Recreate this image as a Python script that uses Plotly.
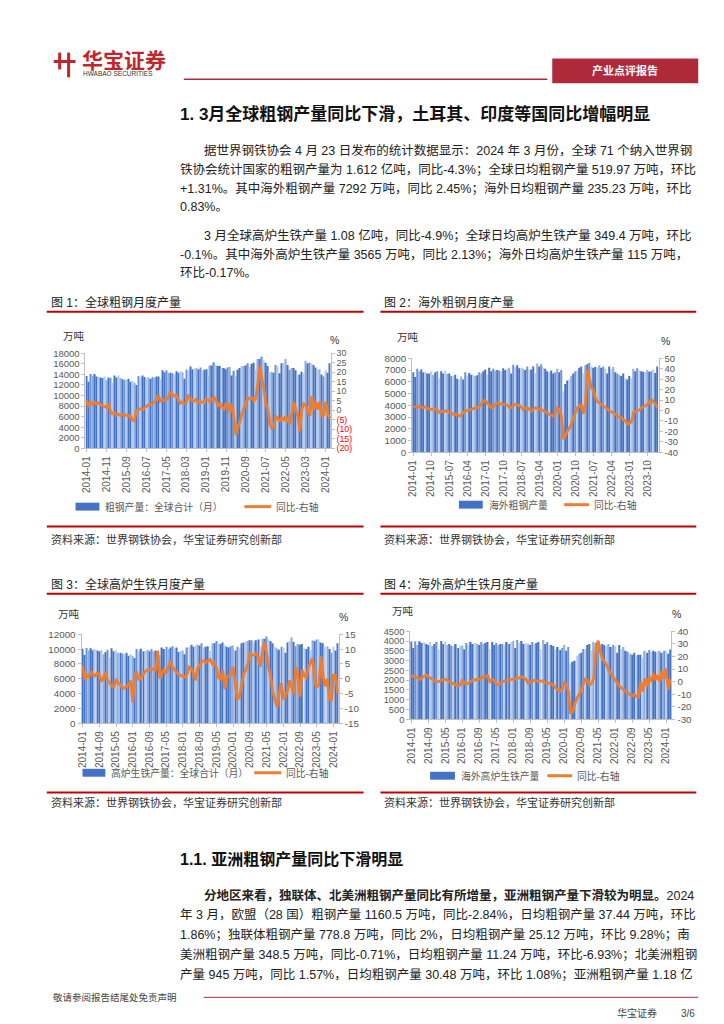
import plotly.graph_objects as go

W, H = 724, 1024
def X(px): return px / W
def Y(py): return 1 - py / H

months = [f"{y}-{m:02d}" for y in range(2014, 2025) for m in range(1, 13)][:123]

# ---------------- data (万吨 / %) ----------------
steel_global = [
    13700, 12600, 14100, 13800, 14100, 13600, 13500, 13400, 13300, 13600, 12900, 13400,
    13300, 12400, 13800, 13400, 13800, 13300, 13100, 13000, 13000, 13200, 12600, 12800,
    12400, 12000, 13700, 13400, 13800, 13500, 13300, 13400, 13200, 13500, 13300, 13600,
    13600, 13100, 14800, 14400, 14800, 14300, 14300, 14200, 14000, 14600, 14300, 14600,
    14400, 13200, 14900, 14800, 15500, 15000, 15100, 15200, 15000, 15300, 14800, 14900,
    15000, 13800, 15700, 15700, 16300, 15800, 15600, 15600, 15200, 15200, 15000, 15300,
    15400, 13800, 14700, 13700, 14900, 15200, 15600, 15600, 15700, 16100, 15400, 16000,
    16200, 15000, 16900, 16900, 17400, 16700, 16200, 15600, 14400, 14500, 14300, 15800,
    15500, 14200, 16100, 16200, 16900, 15800, 14900, 15200, 15200, 14800, 14000, 14000,
    14500, 14200, 16600, 16100, 16200, 16000, 15800, 15300, 15000, 15000, 14000, 13600,
    14800, 14300, 16120]
steel_global_yoy = [
    5.5, 1.8, 4.5, 3.0, 4.2, 3.5, 4.0, 2.8, 2.5, 2.0, 1.5, 3.8,
    -0.5, -1.8, -1.2, -2.5, -2.0, -2.8, -2.2, -2.6, -2.5, -3.0, -2.8, -5.2,
    -5.5, -0.2, 0.5, 0.8, 0.5, 1.2, 2.2, 2.8, 3.0, 3.5, 4.2, 5.5,
    8.0, 4.8, 5.5, 5.2, 5.5, 6.5, 9.8, 8.5, 7.5, 8.0, 5.5, 3.8,
    4.5, 3.6, 4.0, 7.5, 6.5, 5.0, 4.8, 5.8, 4.0, 3.8, 4.5, 4.0,
    6.0, 5.5, 4.5, 6.0, 6.8, 5.0, 2.0, 3.5, 1.5, 0.5, 3.5, 3.0,
    -1.0, 3.5, -5.0, -13.0, -8.5, -6.0, -1.5, 1.0, 3.0, 6.5, 6.0, 6.6,
    5.0, 6.5, 15.0, 23.5, 16.5, 11.5, 3.0, 0.5, -7.5, -9.5, -8.5, -3.0,
    -4.5, -5.5, -4.0, -5.0, -3.0, -5.8, -6.5, -2.0, 4.5, 0.0, -3.5, -11.0,
    0.5, 3.5, 2.5, -0.5, -3.0, 7.5, 0.0, 4.5, 0.5, 4.5, -3.0, -2.5,
    4.5, -1.5, -4.3]

steel_overseas = [
    6800, 6400, 7100, 6900, 7050, 6800, 6850, 6700, 6700, 6900, 6600, 6800,
    6900, 6300, 6900, 6700, 6950, 6650, 6700, 6500, 6450, 6600, 6250, 6200,
    6450, 6200, 6800, 6550, 6750, 6600, 6600, 6500, 6550, 6800, 6700, 6900,
    7050, 6600, 7200, 6900, 7100, 6950, 7000, 6950, 6900, 7150, 7000, 7100,
    7200, 6700, 7450, 7250, 7400, 7150, 7200, 7100, 7000, 7300, 7050, 7050,
    7300, 6750, 7550, 7300, 7500, 7200, 7100, 6900, 6800, 6950, 6700, 6800,
    7100, 6800, 7000, 5200, 5800, 6100, 6200, 6500, 6700, 6900, 6950, 7200,
    7300, 6700, 7400, 7500, 7600, 7300, 7200, 7250, 7150, 7400, 7200, 7300,
    7100, 6700, 7300, 7050, 7250, 6800, 6700, 6600, 6500, 6700, 6300, 6200,
    6500, 6300, 7100, 6900, 7150, 6950, 6900, 6850, 6800, 7000, 6850, 6900,
    7050, 6750, 7292]
steel_overseas_yoy = [
    4.0, 3.0, 2.6, 4.2, 3.5, 2.6, 3.5, 2.0, 1.0, 1.0, 1.0, 1.5,
    0.5, -2.0, -1.0, -0.5, -0.5, -0.5, -1.5, -2.5, -3.6, -3.6, -4.0, -5.3,
    -4.7, -2.0, -0.5, 0.0, 0.5, 1.0, 1.5, 2.6, 3.0, 4.0, 6.0, 9.0,
    9.5, 7.5, 5.0, 2.5, 3.5, 5.5, 7.5, 6.5, 6.0, 5.8, 5.8, 5.0,
    3.0, 2.6, 4.5, 5.8, 5.0, 4.8, 3.0, 1.0, 2.0, 2.6, 1.0, -0.5,
    1.0, 2.6, 2.0, 1.6, 0.5, 0.0, -1.5, -2.5, -3.6, -4.5, -5.3, -3.0,
    2.6, 1.0, -5.0, -27.5, -24.0, -21.0, -16.0, -13.0, -7.0, -2.0, 2.6, 4.0,
    5.8, -3.0, 6.0, 39.0, 31.0, 22.0, 19.0, 12.0, 8.5, 7.0, 5.8, 4.0,
    2.6, 1.0, -0.5, -1.5, -2.0, -4.0, -5.3, -6.5, -7.0, -9.0, -10.0, -13.2,
    -12.0, -11.0, -2.0, -1.0, -0.5, 0.5, 2.6, 3.5, 4.2, 5.5, 8.5, 10.5,
    8.0, 6.5, 2.45]

iron_global = [
    10050, 9200, 10150, 9800, 10100, 9850, 10000, 9800, 9700, 9900, 9300, 9600,
    9900, 8900, 10100, 9700, 9850, 9500, 9500, 9400, 9300, 9500, 9100, 9300,
    9100, 8800, 10000, 9700, 10050, 9700, 9750, 9900, 9700, 10000, 9700, 9800,
    9700, 9200, 10200, 10000, 10300, 10000, 10200, 10400, 10100, 10200, 9600, 9700,
    9800, 9300, 10200, 10300, 10600, 10300, 10500, 10600, 10500, 10800, 10200, 10300,
    10400, 9800, 10800, 10800, 11100, 10800, 10700, 10900, 10600, 10300, 10200, 10400,
    10500, 9800, 10300, 10100, 10800, 10900, 11000, 11100, 11200, 11200, 10900, 11200,
    11300, 10400, 11400, 11400, 11700, 11300, 11100, 10800, 10300, 10100, 9900, 10300,
    10200, 9500, 10900, 11100, 11600, 11000, 10400, 10700, 10600, 10700, 10100, 10000,
    10300, 9800, 11200, 11100, 11300, 11300, 10900, 10800, 10300, 10400, 10000, 9500,
    10300, 9800, 10800]
iron_global_yoy = [
    4.5, -0.5, 1.5, 0.5, 2.5, 1.5, 1.0, 2.0, 1.5, -1.0, 0.5, 2.0,
    -0.5, -1.5, -2.5, -2.8, 0.0, -1.5, -2.0, -3.0, -3.2, -2.5, -2.0, -0.5,
    -8.0, 1.5, 2.0, -0.5, 0.5, 1.5, 2.5, 3.0, 3.0, 3.5, 3.0, 3.0,
    9.5, 0.0, 2.0, 3.0, 2.0, 3.5, 6.0, 4.0, 3.0, 2.0, 1.5, 1.0,
    1.0, 0.5, 1.5, 4.0, 3.5, 2.0, -0.5, 3.5, 4.0, 6.0, 6.0, 5.5,
    6.0, 6.5, 5.0, 5.5, 4.0, 0.5, -0.5, 3.0, -3.5, 0.5, 1.0, 1.5,
    4.0, -1.5, -7.0, -6.0, -1.5, 1.5, 3.0, 5.0, 8.5, 8.0, 8.0, 8.5,
    7.5, 4.0, 9.0, 12.5, 8.5, 3.5, 0.5, -4.5, -7.0, -9.5, -5.0, -1.5,
    -6.5, -6.0, -4.0, -0.5, -3.0, -5.0, 4.0, 0.5, -6.0, 3.0, 1.0, 0.5,
    4.0, 5.5, 7.0, -1.0, -3.0, -2.0, 7.5, 1.0, -2.5, 0.0, -6.5, -7.5,
    1.5, 1.0, -4.9]

iron_overseas = [
    3980, 3650, 3990, 3800, 3990, 3900, 3950, 3850, 3800, 3950, 3750, 3850,
    3950, 3580, 4000, 3850, 3980, 3800, 3850, 3780, 3750, 3850, 3650, 3750,
    3780, 3580, 3900, 3800, 3950, 3850, 3900, 3850, 3800, 3950, 3850, 3900,
    3950, 3600, 3950, 3800, 3900, 3800, 3850, 3850, 3800, 3950, 3850, 3950,
    4000, 3650, 4050, 3900, 4000, 3850, 3900, 3850, 3800, 3950, 3850, 3900,
    3950, 3600, 4050, 3850, 3950, 3800, 3800, 3750, 3600, 3700, 3550, 3650,
    3800, 3500, 3700, 2850, 2950, 3000, 3250, 3350, 3400, 3600, 3600, 3800,
    3850, 3500, 3950, 3900, 3950, 3850, 3850, 3800, 3750, 3850, 3700, 3800,
    3750, 3400, 3800, 3600, 3700, 3500, 3450, 3350, 3300, 3400, 3250, 3300,
    3300, 3150, 3500, 3400, 3550, 3450, 3500, 3450, 3450, 3500, 3400, 3500,
    3500, 3350, 3565]
iron_overseas_yoy = [
    4.5, 4.0, 4.0, 3.0, 1.8, 3.0, 4.0, 5.2, 4.0, 2.6, 1.5, 0.5,
    0.0, 0.0, 1.0, 1.3, 1.8, 1.0, 0.0, -1.3, -1.5, -2.6, -3.4, -3.0,
    1.8, -1.3, -1.5, -1.3, 0.0, 1.3, 1.3, 1.5, 1.8, 2.5, 3.9, 4.4,
    4.8, 0.0, 1.8, 1.0, -1.8, -2.6, -1.0, 0.0, 0.5, 0.8, 1.3, 1.8,
    1.5, 1.8, 2.6, 3.0, 3.9, 3.0, 1.8, -1.3, -0.5, 0.0, 1.3, 0.5,
    0.0, 0.5, 0.5, -0.8, -0.8, -1.3, -2.0, -2.6, -5.2, -6.5, -7.8, -6.0,
    0.0, -3.0, -8.0, -25.5, -24.0, -18.0, -13.0, -10.5, -7.0, -2.0, 2.0, 1.0,
    -2.6, -1.3, 3.0, 27.5, 32.5, 24.0, 18.0, 15.7, 13.0, 9.0, 6.0, 3.9,
    1.0, -1.0, -3.9, -5.0, -6.5, -7.8, -9.0, -10.5, -11.2, -10.4, -11.7, -13.0,
    0.0, -7.8, 2.6, -3.9, 3.9, 0.0, 6.5, 1.3, 5.2, 0.0, 8.5, 2.6,
    10.4, -6.5, 2.13]

ticks_c1 = ["2014-01", "2014-11", "2015-09", "2016-07", "2017-05", "2018-03", "2019-01",
            "2019-11", "2020-09", "2021-07", "2022-05", "2023-03", "2024-01"]
ticks_c2 = ["2014-01", "2014-10", "2015-07", "2016-04", "2017-01", "2017-10", "2018-07",
            "2019-04", "2020-01", "2020-10", "2021-07", "2022-04", "2023-01", "2023-10"]
ticks_c34 = ["2014-01", "2014-09", "2015-05", "2016-01", "2016-09", "2017-05", "2018-01", "2018-09",
             "2019-05", "2020-01", "2020-09", "2021-05", "2022-01", "2022-09", "2023-05", "2024-01"]

for arr in (steel_global, steel_global_yoy, steel_overseas, steel_overseas_yoy,
            iron_global, iron_global_yoy, iron_overseas, iron_overseas_yoy):
    assert len(arr) == 123, len(arr)

# ---------------- styles ----------------
GRAY = '#595959'
AXC = '#BFBFBF'
ORANGE = '#ED7D31'
BLUE = '#4472C4'
RED = '#C00000'
HDR = '#AE2A3B'
LAT = 'Liberation Sans, Arial, Noto Sans CJK SC, sans-serif'
CJK = 'Liberation Sans, Noto Sans CJK SC, sans-serif'

def tickfont(size):
    return dict(family=LAT, size=size, color=GRAY)

def shade(i):
    t = (i * 0.29) % 1.0
    if t < 0.45:
        return '#4472C4'
    if t < 0.6:
        return '#6F93D3'
    if t < 0.85:
        return '#B7CCEC'
    return '#8FAEDF'

bar_colors = [shade(i) for i in range(123)]

def neg_red(v):
    if v < 0:
        return f'<span style="color:#FF0000">({-v})</span>'
    return str(v)

charts = [
    dict(bars=steel_global, yoy=steel_global_yoy, ticks=ticks_c1,
         box=(73, 320, 343, 439), lrange=[0, 18000], ldtick=2000, lfs=9.5, rfs=8.8,
         rvals=list(range(-20, 31, 5)), rtext=[neg_red(v) for v in range(-20, 31, 5)], rrange=[-20, 30]),
    dict(bars=steel_overseas, yoy=steel_overseas_yoy, ticks=ticks_c2,
         box=(402, 650, 348, 443), lrange=[0, 8000], ldtick=1000, lfs=9.8, rfs=9.5,
         rvals=list(range(-40, 51, 10)), rtext=[str(v) for v in range(-40, 51, 10)], rrange=[-40, 50]),
    dict(bars=iron_global, yoy=iron_global_yoy, ticks=ticks_c34,
         box=(69, 328, 627, 717), lrange=[0, 12000], ldtick=2000, lfs=9.8, rfs=9.8,
         rvals=list(range(-15, 16, 5)), rtext=[str(v) for v in range(-15, 16, 5)], rrange=[-15, 15]),
    dict(bars=iron_overseas, yoy=iron_overseas_yoy, ticks=ticks_c34,
         box=(400, 663, 624, 713), lrange=[0, 4500], ldtick=500, lfs=9.3, rfs=9.8,
         rvals=list(range(-30, 41, 10)), rtext=[str(v) for v in range(-30, 41, 10)], rrange=[-30, 40]),
]

fig = go.Figure()
layout = dict(width=W, height=H, margin=dict(l=0, r=0, t=0, b=0),
              paper_bgcolor='white', plot_bgcolor='rgba(0,0,0,0)',
              showlegend=False, bargap=0.35, font=dict(family=CJK, color=GRAY))

for k, c in enumerate(charts, start=1):
    xname = 'xaxis' if k == 1 else f'xaxis{k}'
    xref = 'x' if k == 1 else f'x{k}'
    li, ri = 2 * k - 1, 2 * k
    lname = 'yaxis' if li == 1 else f'yaxis{li}'
    lref = 'y' if li == 1 else f'y{li}'
    rname, rref = f'yaxis{ri}', f'y{ri}'
    x0, x1, yt, yb = c['box']
    fig.add_trace(go.Bar(x=months, y=c['bars'], marker=dict(color=bar_colors, line=dict(width=0)),
                         xaxis=xref, yaxis=lref, hoverinfo='skip'))
    fig.add_trace(go.Scatter(x=months, y=c['yoy'], mode='lines', line=dict(color=ORANGE, width=2.8),
                             xaxis=xref, yaxis=rref, hoverinfo='skip'))
    layout[xname] = dict(domain=[X(x0), X(x1)], anchor=lref, type='category', range=[-0.5, 122.5],
                         tickmode='array', tickvals=c['ticks'], ticktext=c['ticks'], tickangle=-90,
                         tickfont=tickfont(10), showline=True, linecolor=AXC, linewidth=1,
                         ticks='outside', ticklen=3, tickcolor=AXC, showgrid=False, zeroline=False)
    layout[lname] = dict(domain=[Y(yb), Y(yt)], anchor=xref, range=c['lrange'], dtick=c['ldtick'],
                         tickformat='d', tickfont=tickfont(c['lfs']), showline=True, linecolor=AXC,
                         ticks='outside', ticklen=3, tickcolor=AXC, showgrid=False, zeroline=False)
    layout[rname] = dict(overlaying=lref, side='right', anchor=xref, range=c['rrange'],
                         tickmode='array', tickvals=c['rvals'], ticktext=c['rtext'],
                         tickfont=tickfont(c['rfs']), showline=True, linecolor=AXC,
                         ticks='outside', ticklen=3, tickcolor=AXC, showgrid=False, zeroline=False)

fig.update_layout(**layout)

ann = []
shapes = []

def text(px, py, s, size=12.5, color='#222222', anchor='left', bold=False, family=CJK, yanchor='middle'):
    if bold:
        s = f'<b>{s}</b>'
    ann.append(dict(x=X(px), y=Y(py), xref='paper', yref='paper', text=s, showarrow=False,
                    xanchor=anchor, yanchor=yanchor, font=dict(size=size, color=color, family=family)))

def hline(x0, x1, y, color, width):
    shapes.append(dict(type='line', xref='paper', yref='paper', x0=X(x0), x1=X(x1), y0=Y(y), y1=Y(y),
                       line=dict(color=color, width=width)))

def rect(x0, x1, y0, y1, color):
    shapes.append(dict(type='rect', xref='paper', yref='paper', x0=X(x0), x1=X(x1), y0=Y(y0), y1=Y(y1),
                       fillcolor=color, line=dict(width=0)))

# ---- header ----
shapes.append(dict(type='line', xref='paper', yref='paper', x0=X(41), x1=X(63), y0=Y(48), y1=Y(48),
                   line=dict(color='#C0272D', width=3)))
shapes.append(dict(type='line', xref='paper', yref='paper', x0=X(47), x1=X(47), y0=Y(39), y1=Y(56),
                   line=dict(color='#C0272D', width=3)))
shapes.append(dict(type='line', xref='paper', yref='paper', x0=X(56), x1=X(56), y0=Y(39), y1=Y(64),
                   line=dict(color='#C0272D', width=3)))
text(67, 47, '华宝证券', size=21, color='#C0272D', bold=True)
text(68, 60, 'HWABAO SECURITIES', size=6.5, color='#333333', family=LAT)
hline(172, 538, 66, HDR, 1.5)
rect(543, 690, 45, 70, HDR)
text(616, 57.5, '产业点评报告', size=11, color='white', anchor='center', bold=True)

# ---- section 1 ----
text(166, 101, '1. 3月全球粗钢产量同比下滑，土耳其、印度等国同比增幅明显', size=17, color='#111111', bold=True)
body = [
    (190, 138, '据世界钢铁协会 4 月 23 日发布的统计数据显示：2024 年 3 月份，全球 71 个纳入世界钢'),
    (166, 157, '铁协会统计国家的粗钢产量为 1.612 亿吨，同比-4.3%；全球日均粗钢产量 519.97 万吨，环比'),
    (166, 176, '+1.31%。其中海外粗钢产量 7292 万吨，同比 2.45%；海外日均粗钢产量 235.23 万吨，环比'),
    (166, 195, '0.83%。'),
    (190, 224, '3 月全球高炉生铁产量 1.08 亿吨，同比-4.9%；全球日均高炉生铁产量 349.4 万吨，环比'),
    (166, 243, '-0.1%。其中海外高炉生铁产量 3565 万吨，同比 2.13%；海外日均高炉生铁产量 115 万吨，'),
    (166, 262, '环比-0.17%。'),
]
for px, py, s in body:
    text(px, py, s, size=12.5)

# ---- chart frames ----
frames = [
    (36, 34, 353, 292, 301, 518, 531, '图 1：全球粗钢月度产量'),
    (372, 370, 688, 292, 301, 518, 531, '图 2：海外粗钢月度产量'),
    (36, 34, 353, 577, 586, 787, 797, '图 3：全球高炉生铁月度产量'),
    (372, 370, 688, 577, 586, 787, 797, '图 4：海外高炉生铁月度产量'),
]
for tx, lx0, lx1, ty, ly1, ly2, sy, title in frames:
    text(tx, ty, title, size=12, color='#222222')
    hline(lx0, lx1, ly1, RED, 2)
    hline(lx0, lx1, ly2, RED, 2)
    text(tx, sy, '资料来源：世界钢铁协会，华宝证券研究创新部', size=11, color='#333333')

# unit labels
for ux, uy, px, py in [(48, 326, 317, 330), (385, 327, 650, 331), (43, 607, 326, 610), (380, 603, 662, 607)]:
    text(ux, uy, '万吨', size=10.5, color='#333333')
    text(px, py, '%', size=10.5, color='#333333', family=LAT)

# legends
legends = [
    (63, 87, 498, '粗钢产量：全球合计（月）', 233, 260),
    (449, 473, 496, '海外粗钢产量', 555, 580),
    (70, 93, 767, '高炉生铁产量：全球合计（月）', 243, 270),
    (420, 445, 770, '海外高炉生铁产量', 538, 563),
]
for bx0, bx1, ly, lab, ox0, ox1 in legends:
    rect(bx0, bx1, ly - 4, ly + 4, BLUE)
    text(bx1 + 4, ly, lab, size=9.8, color=GRAY)
    hline(ox0, ox1, ly, ORANGE, 3)
    text(ox1 + 3, ly, '同比-右轴', size=9.8, color=GRAY)

# ---- section 1.1 ----
text(166, 855, '1.1. 亚洲粗钢产量同比下滑明显', size=16, color='#111111', bold=True)
body2 = [
    (190, 891, '<b>分地区来看，独联体、北美洲粗钢产量同比有所增量，亚洲粗钢产量下滑较为明显。</b>2024'),
    (166, 911, '年 3 月，欧盟（28 国）粗钢产量 1160.5 万吨，同比-2.84%，日均粗钢产量 37.44 万吨，环比'),
    (166, 931, '1.86%；独联体粗钢产量 778.8 万吨，同比 2%，日均粗钢产量 25.12 万吨，环比 9.28%；南'),
    (166, 951, '美洲粗钢产量 348.5 万吨，同比-0.71%，日均粗钢产量 11.24 万吨，环比-6.93%；北美洲粗钢'),
    (166, 971, '产量 945 万吨，同比 1.57%，日均粗钢产量 30.48 万吨，环比 1.08%；亚洲粗钢产量 1.18 亿'),
]
for px, py, s in body2:
    text(px, py, s, size=12.5)

# ---- footer ----
hline(192, 690, 994, HDR, 1)
text(38, 994, '敬请参阅报告结尾处免责声明', size=9.5, color='#444444')
text(606, 1010, '华宝证券', size=10, color='#444444')
text(671, 1010, '3/6', size=10, color='#444444', family=LAT)

fig.update_layout(annotations=ann, shapes=shapes)
fig.write_html('out.html')
